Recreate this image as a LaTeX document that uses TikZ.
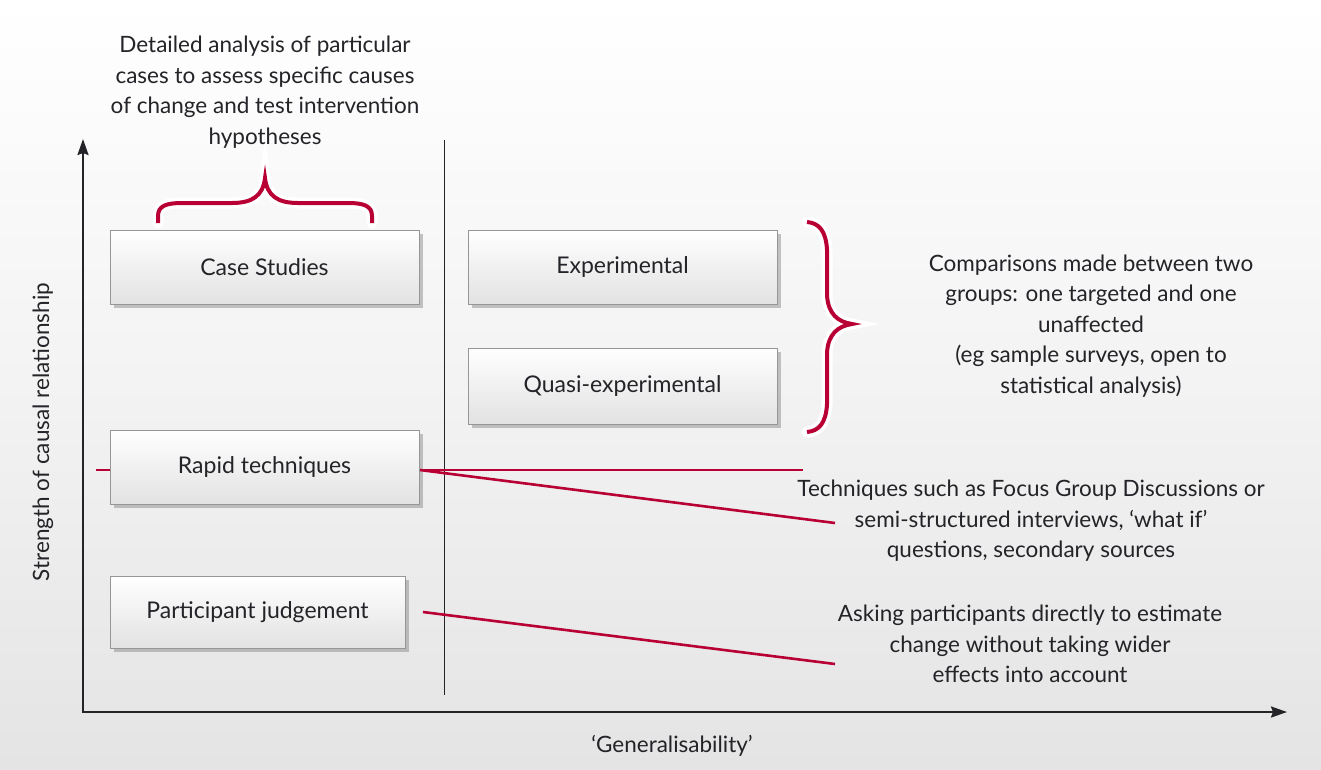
\documentclass[tikz,border=0pt]{standalone}
\usepackage{fontspec}
\setmainfont{Lato}
\usetikzlibrary{arrows.meta,shadows}
\definecolor{crim}{RGB}{184,0,52}
\definecolor{txt}{RGB}{35,35,40}
\definecolor{bgbot}{RGB}{227,228,227}
\definecolor{boxbot}{RGB}{226,226,226}
\definecolor{boxline}{RGB}{150,150,150}
\tikzset{
  lbl/.style={font=\fontsize{22.5}{30.5}\selectfont, text=txt, align=center, inner sep=0pt},
  boxnode/.style={draw=boxline, line width=0.8pt, top color=white, bottom color=boxbot,
    minimum height=74pt, font=\fontsize{23}{26}\selectfont, text=txt,
    drop shadow={opacity=0.45, shadow xshift=4pt, shadow yshift=-4pt}},
  axis/.style={line width=2.2pt, draw=txt, -{Stealth[length=16pt,width=11pt,inset=2pt]}},
  redline/.style={draw=crim, line width=2.6pt},
  halo/.style={draw=white, line width=11pt, line cap=round},
  bracered/.style={draw=crim, line width=4pt},
}
\begin{document}
\begin{tikzpicture}[x=1pt,y=-1pt]
\shade[top color=white, bottom color=bgbot, middle color=white!55!bgbot] (0,0) rectangle (1321,769);
\useasboundingbox (0,0) rectangle (1321,769);

% axes
\coordinate (o) at (83,712);
\coordinate (ytop) at (83,139);
\coordinate (xend) at (1287,712);
\draw[axis] (o) -- (ytop);
\draw[axis] (82,712) -- (xend);
\coordinate (d1) at (444,140);
\coordinate (d2) at (444,695);
\draw[line width=0.9pt, draw=txt] (d1) -- (d2);

% red lines behind boxes
\coordinate (rl) at (96,470);
\coordinate (rr) at (803,470);
\coordinate (rd) at (835,523);
\coordinate (pd) at (835,664);
\draw[redline] (rl) -- (rr);

% boxes
\node[boxnode, minimum width=309pt] (case) at (264.5,267) {Case Studies};
\node[boxnode, minimum width=309pt] (exp) at (622.5,267) {Experimental};
\node[boxnode, minimum width=309pt, minimum height=76pt] (quasi) at (622.5,386) {Quasi-experimental};
\node[boxnode, minimum width=309pt] (rapid) at (264.5,467) {Rapid techniques};
\node[boxnode, minimum width=295pt, minimum height=72pt] (part) at (257.5,612) {Participant judgement};

\coordinate (rs) at (420,470);
\coordinate (ps) at (423,612);
\draw[redline] (rs) -- (rd);
\draw[redline] (ps) -- (pd);

% top brace
\def\topbrace{(158,223) -- (158,216) .. controls (158,206) and (166,203) .. (182,203) -- (232,203) .. controls (252,203) and (263,196) .. (265,178)
  .. controls (267,196) and (278,203) .. (298,203) -- (348,203) .. controls (364,203) and (372,206) .. (372,216) -- (372,223)}
\draw[halo] \topbrace;
\draw[bracered] \topbrace;

% right brace
\def\rightbrace{(807,222) .. controls (819,223) and (826,231) .. (827,250) -- (827,295) .. controls (828,314) and (838,322) .. (852,324)
  .. controls (838,326) and (828,334) .. (827,353) -- (827,404) .. controls (826,423) and (819,431) .. (807,432)}
\draw[halo] \rightbrace;
\draw[bracered] \rightbrace;

% labels
\node[lbl] (toptext) at (265,92) {Detailed analysis of particular\\cases to assess specific causes\\of change and test intervention\\hypotheses};
\node[lbl] (comp) at (1091,326) {Comparisons made between two\\groups: one targeted and one\\unaffected\\(eg sample surveys, open to\\statistical analysis)};
\node[lbl] (tech) at (1031,521) {Techniques such as Focus Group Discussions or\\semi-structured interviews, `what if'\\questions, secondary sources};
\node[lbl] (ask) at (1030,644) {Asking participants directly to estimate\\change without taking wider\\effects into account};
\node[lbl] (gen) at (672,746) {`Generalisability'};
\node[lbl, rotate=90] (str) at (43,432) {Strength of causal relationship};
\end{tikzpicture}
\end{document}
